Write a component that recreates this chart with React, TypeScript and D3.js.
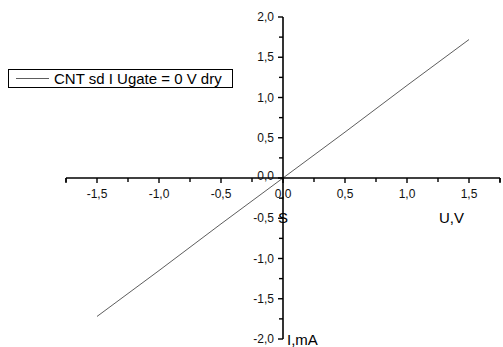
import React from "react";
import * as d3 from "d3";

const voltage = [-1.5, -1.0, -0.5, 0, 0.5, 1.0, 1.5];
const current = [-1.72, -1.15, -0.57, 0, 0.57, 1.15, 1.72];
const xMajorTicks = [-1.5, -1.0, -0.5, 0, 0.5, 1.0, 1.5];
const yMajorTicks = [-2.0, -1.5, -1.0, -0.5, 0, 0.5, 1.0, 1.5, 2.0];
const legendLabel = "CNT sd I Ugate = 0 V dry";
const xTitle = "U,V";
const yTitle = "I,mA";
const originLabel = "S";

const W = 503;
const H = 347;
const FONT = "Arial, 'Liberation Sans', sans-serif";

export default function App() {
  const x = d3.scaleLinear().domain([-1.75, 1.75]).range([66, 500]);
  const y = d3.scaleLinear().domain([-2, 2]).range([339, 17]);
  const fmt = (v: number) => d3.format(".1f")(v).replace(".", ",").replace("−", "-");
  const xMinor = d3.range(-1.75, 1.76, 0.25).filter((v) => !xMajorTicks.some((m) => Math.abs(m - v) < 1e-6));
  const yMinor = d3.range(-1.75, 1.76, 0.25).filter((v) => !yMajorTicks.some((m) => Math.abs(m - v) < 1e-6));
  const line = d3
    .line<number>()
    .x((_, i) => x(voltage[i]))
    .y((d) => y(d));
  const x0 = x(0);
  const y0 = y(0);
  return (
    <svg width={W} height={H} style={{ position: "absolute", left: 0, top: 0, background: "#fff" }} fontFamily={FONT}>
      <rect x={0} y={0} width={W} height={H} fill="#fff" />
      {/* data line */}
      <path d={line(current) || ""} fill="none" stroke="#333" strokeWidth={0.8} />
      {/* x axis */}
      <line x1={x(-1.75)} x2={x(1.75)} y1={y0} y2={y0} stroke="#000" strokeWidth={1.6} />
      {[x(-1.75), x(1.75)].map((px, i) => (
        <line key={"xe" + i} x1={px} x2={px} y1={y0} y2={y0 + 5} stroke="#000" strokeWidth={1.4} />
      ))}
      {xMajorTicks.map((v) => (
        <g key={"xm" + v}>
          <line x1={x(v)} x2={x(v)} y1={y0} y2={y0 + 5} stroke="#000" strokeWidth={1.4} />
          <text x={x(v)} y={y0 + 20} fontSize={12} textAnchor="middle" fill="#111">
            {fmt(v)}
          </text>
        </g>
      ))}
      {xMinor.map((v) => (
        <line key={"xn" + v} x1={x(v)} x2={x(v)} y1={y0} y2={y0 + 4} stroke="#000" strokeWidth={1.4} />
      ))}
      {/* y axis */}
      <line x1={x0} x2={x0} y1={y(2)} y2={y(-2)} stroke="#000" strokeWidth={1.6} />
      {yMajorTicks.map((v) => (
        <g key={"ym" + v}>
          <line x1={x0} x2={x0 - 5} y1={y(v)} y2={y(v)} stroke="#000" strokeWidth={1.4} />
          <text x={x0 - 9} y={y(v) + (v === 0 ? 2 : 4)} fontSize={12} textAnchor="end" fill="#111">
            {fmt(v)}
          </text>
        </g>
      ))}
      {yMinor.map((v) => (
        <line key={"yn" + v} x1={x0} x2={x0 - 4} y1={y(v)} y2={y(v)} stroke="#000" strokeWidth={1.4} />
      ))}
      {/* titles */}
      <text x={x0} y={y0 + 45} fontSize={15} textAnchor="middle" fill="#000">
        {originLabel}
      </text>
      <text x={439} y={y0 + 45} fontSize={15} fill="#000">
        {xTitle}
      </text>
      <text x={x0 + 4} y={345} fontSize={15} fill="#000">
        {yTitle}
      </text>
      {/* legend */}
      <rect x={8.5} y={69.5} width={224} height={18} fill="#fff" stroke="#000" strokeWidth={1} />
      <line x1={16} x2={49} y1={78.5} y2={78.5} stroke="#333" strokeWidth={0.8} />
      <text x={54} y={84} fontSize={15} fill="#000">
        {legendLabel}
      </text>
    </svg>
  );
}
